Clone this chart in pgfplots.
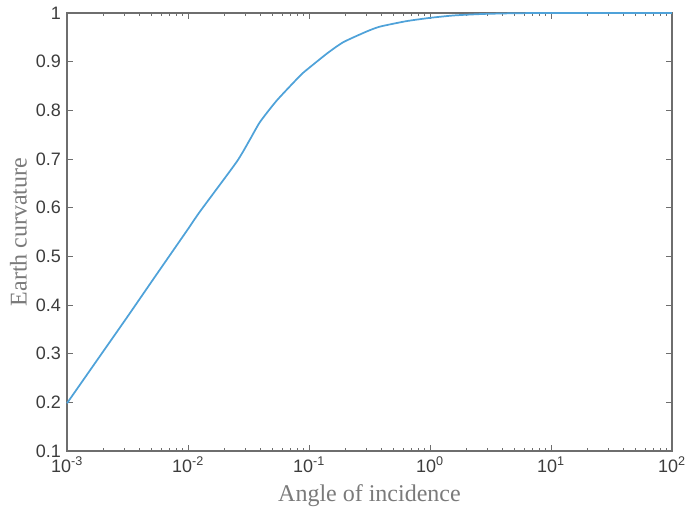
\documentclass[border=0pt]{standalone}
\usepackage{fontspec}
\setmainfont{Liberation Serif}
\newfontfamily\tickfont{Liberation Sans}
\usepackage{pgfplots}
\pgfplotsset{compat=1.18}
\usetikzlibrary{calc}
\definecolor{lineblue}{HTML}{4FA2D9}
\definecolor{axgray}{HTML}{6E6E6E}
\definecolor{tickgray}{HTML}{3C3C3C}
\definecolor{labgray}{HTML}{7A7A7A}
\begin{document}
\begin{tikzpicture}
\begin{axis}[
  scale only axis,
  width=453.75pt, height=328.5pt,
  xmode=log,
  xmin=1e-3, xmax=1e2,
  ymin=0.1, ymax=1,
  xtick={1e-3,1e-2,1e-1,1e0,1e1,1e2},
  xticklabels={10\textsuperscript{-3},10\textsuperscript{-2},10\textsuperscript{-1},10\textsuperscript{0},10\textsuperscript{1},10\textsuperscript{2}},
  ytick={0.1,0.2,0.3,0.4,0.5,0.6,0.7,0.8,0.9,1},
  yticklabels={0.1,0.2,0.3,0.4,0.5,0.6,0.7,0.8,0.9,1},
  tick align=inside,
  major tick length=4.5pt,
  minor tick length=2.5pt,
  minor y tick num=0,
  axis line style={axgray, line width=0.8pt},
  every tick/.style={axgray, line width=0.6pt},
  tick label style={font=\tickfont\fontsize{13.5}{15}\selectfont, text=tickgray},
  xticklabel style={yshift=-1pt},
  yticklabel style={xshift=-1pt},
  xlabel={Angle of incidence},
  ylabel={Earth curvature},
  label style={font=\fontsize{18}{20}\selectfont, text=labgray},
  xlabel style={yshift=-2pt},
  ylabel style={yshift=0pt},
  clip=false,
]
\addplot[lineblue, line width=1.3pt, smooth, tension=0.35] coordinates {
(0.001,0.198)
(0.001778,0.287)
(0.003162,0.376)
(0.005333,0.458)
(0.01,0.556)
(0.01256,0.592)
(0.02523,0.694)
(0.0325,0.740)
(0.03936,0.776)
(0.05408,0.820)
(0.0851,0.872)
(0.1,0.887)
(0.1413,0.917)
(0.192,0.940)
(0.30,0.962)
(0.386,0.972)
(0.631,0.983)
(1,0.990)
(1.585,0.995)
(2.75,0.998)
(5.01,0.9995)
(10,1.0)
(100,1.0)
};
\end{axis}
\pgfresetboundingbox
\path ($(current axis.south west)+(-50.25pt,-51.75pt)$) rectangle ($(current axis.north east)+(10.5pt,9.75pt)$);
\end{tikzpicture}
\end{document}
